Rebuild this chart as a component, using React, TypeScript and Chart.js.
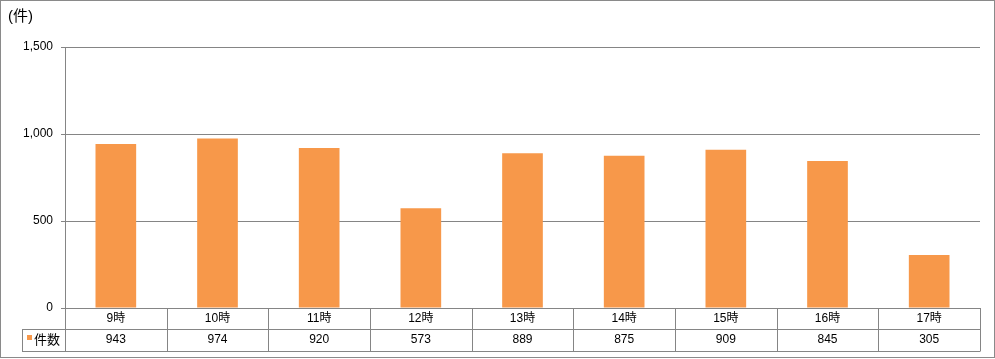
import React, { useEffect, useRef } from "react";
import { Chart, registerables } from "chart.js";

Chart.register(...registerables);

const categories = ["9時", "10時", "11時", "12時", "13時", "14時", "15時", "16時", "17時"];
const counts = [943, 974, 920, 573, 889, 875, 909, 845, 305];
const seriesName = "件数";
const unitLabel = "(件)";
const yMax = 1500;
const yStep = 500;

const FONT = '"Liberation Sans", "Noto Sans CJK JP", sans-serif';
const BAR_COLOR = "#F7984A";
const LINE_COLOR = "#858585";

const tablePlugin = {
  id: "tablePlugin",
  afterDraw(chart: any) {
    const ctx = chart.ctx;
    const area = chart.chartArea;
    const xs = chart.scales.x;
    const n = categories.length;
    const left = Math.round(area.left);
    const right = Math.round(area.right);
    const top = Math.round(area.bottom);
    const row1 = top + 21;
    const row2 = top + 43;
    const legendLeft = 22;
    ctx.save();
    ctx.strokeStyle = LINE_COLOR;
    ctx.lineWidth = 1;
    const colW = (right - left) / n;
    ctx.beginPath();
    ctx.moveTo(legendLeft, row1 + 0.5);
    ctx.lineTo(right, row1 + 0.5);
    ctx.moveTo(legendLeft, row2 + 0.5);
    ctx.lineTo(right, row2 + 0.5);
    for (let i = 0; i <= n; i++) {
      const x = Math.round(left + colW * i) + 0.5;
      ctx.moveTo(x, top);
      ctx.lineTo(x, row2 + 0.5);
    }
    ctx.moveTo(legendLeft + 0.5, row1);
    ctx.lineTo(legendLeft + 0.5, row2 + 0.5);
    ctx.stroke();

    ctx.fillStyle = "#000";
    ctx.font = "12px " + FONT;
    ctx.textAlign = "center";
    ctx.textBaseline = "middle";
    for (let i = 0; i < n; i++) {
      const cx = xs.getPixelForValue(i);
      ctx.fillText(categories[i], cx, top + 11);
      ctx.fillText(String(counts[i]), cx, row1 + 11);
    }
    // legend
    ctx.fillStyle = BAR_COLOR;
    ctx.fillRect(27, row1 + 6, 5, 5);
    ctx.fillStyle = "#000";
    ctx.textAlign = "left";
    ctx.font = "13px " + FONT;
    ctx.fillText(seriesName, 34, row1 + 11);

    // unit label
    ctx.font = "15px " + FONT;
    ctx.textBaseline = "middle";
    ctx.fillText(unitLabel, 8, 17);

    // outer border
    ctx.strokeStyle = "#8a8a8a";
    ctx.strokeRect(0.5, 0.5, chart.width - 1, chart.height - 2);
    ctx.restore();
  },
};

export default function App() {
  const ref = useRef<HTMLCanvasElement | null>(null);
  useEffect(() => {
    document.body.style.margin = "0";
    const canvas = ref.current;
    if (!canvas) return;
    const chart = new Chart(canvas, {
      type: "bar",
      data: {
        labels: categories,
        datasets: [
          {
            label: seriesName,
            data: counts,
            backgroundColor: BAR_COLOR,
            borderWidth: 0,
            barPercentage: 0.4,
            categoryPercentage: 1,
          },
        ],
      },
      options: {
        animation: false,
        responsive: false,
        maintainAspectRatio: false,
        layout: { padding: { left: 0, right: 15, top: 47, bottom: 51 } },
        plugins: { legend: { display: false }, tooltip: { enabled: false }, title: { display: false } },
        scales: {
          x: {
            display: false,
            offset: true,
            grid: { display: false },
          },
          y: {
            min: 0,
            max: yMax,
            afterFit(scale: any) {
              scale.width = 65;
            },
            ticks: {
              stepSize: yStep,
              padding: 8,
              color: "#000",
              font: { family: FONT, size: 12 },
              callback: (v: any) => Number(v).toLocaleString("en-US"),
            },
            grid: { color: LINE_COLOR, tickLength: 4, lineWidth: 1 },
            border: { color: LINE_COLOR, width: 1 },
          },
        },
      },
      plugins: [tablePlugin],
    });
    return () => chart.destroy();
  }, []);
  return (
    <div style={{ width: 995, height: 359 }}>
      <canvas ref={ref} width={995} height={359} style={{ display: "block" }} />
    </div>
  );
}
